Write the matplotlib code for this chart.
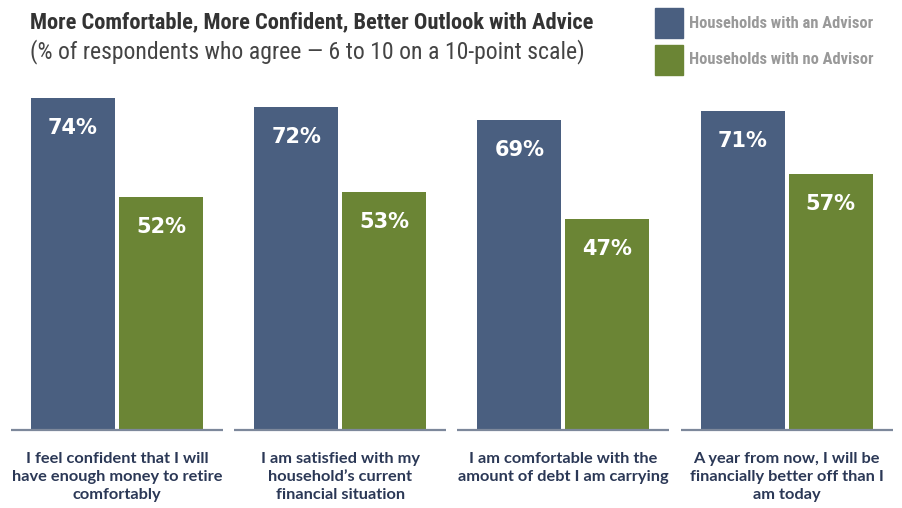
import matplotlib
matplotlib.use('Agg')
import matplotlib.pyplot as plt
import numpy as np

# ── Data ────────────────────────────────────────────────────────────────
categories = [
    "I feel confident that I will\nhave enough money to retire\ncomfortably",
    "I am satisfied with my\nhousehold\u2019s current\nfinancial situation",
    "I am comfortable with the\namount of debt I am carrying",
    "A year from now, I will be\nfinancially better off than I\nam today",
]
with_advisor = [74, 72, 69, 71]
no_advisor = [52, 53, 47, 57]
series_names = ["Households with an Advisor", "Households with no Advisor"]

blue = '#4a5f80'
green = '#6b8535'
navy_text = '#2b3856'
cond = ['Roboto Condensed', 'DejaVu Sans']
lato = ['Lato', 'DejaVu Sans']

W, H = 902, 508
fig = plt.figure(figsize=(W / 100, H / 100), dpi=100)

# axes spanning full width; baseline at y=430 px from top
base_px = 430
px_per_pct = 4.49
ax = fig.add_axes([0, (H - base_px) / H, 1, base_px / H])
gap = 223.2
c0 = 117.0
ax.set_xlim(-c0 / gap, (W - c0) / gap)
ax.set_ylim(0, base_px / px_per_pct)
ax.axis('off')

x = np.arange(len(categories))
bw = 84 / gap
off = 44 / gap
ax.bar(x - off, with_advisor, width=bw, color=blue)
ax.bar(x + off, no_advisor, width=bw, color=green)

lab_drop = 30 / px_per_pct
for xi, a, b in zip(x, with_advisor, no_advisor):
    ax.text(xi - off, a - lab_drop, f"{a}%", ha='center', va='center', color='white',
            fontsize=15, fontweight='bold', family='DejaVu Sans')
    ax.text(xi + off, b - lab_drop, f"{b}%", ha='center', va='center', color='white',
            fontsize=15, fontweight='bold', family='DejaVu Sans')
    ax.plot([xi - 106 / gap, xi + 106 / gap], [0, 0], color='#7d889b', lw=1.6,
            solid_capstyle='butt', clip_on=False)

# category labels below baseline
for xi, cat in zip(x, categories):
    fx = (c0 + xi * gap) / W
    fig.text(fx, 1 - 452 / H, cat, ha='center', va='top', color=navy_text,
             fontsize=11.8, fontweight='bold', family=lato, linespacing=1.35)

# title / subtitle
fig.text(30 / W, 1 - 22 / H, "More Comfortable, More Confident, Better Outlook with Advice",
         ha='left', va='center', fontsize=16.2, fontweight='bold', color='#333333', family=cond)
fig.text(30 / W, 1 - 52 / H, "(% of respondents who agree \u2014 6 to 10 on a 10-point scale)",
         ha='left', va='center', fontsize=17.1, color='#444444', family=cond)

# legend
for i, (name, col) in enumerate(zip(series_names, [blue, green])):
    top = 8 + i * 37
    fig.patches.append(plt.Rectangle((655 / W, 1 - (top + 30) / H), 28 / W, 30 / H,
                                     transform=fig.transFigure, color=col))
    fig.text(689 / W, 1 - (top + 15) / H, name, ha='left', va='center', fontsize=11.9,
             fontweight='bold', color='#999999', family=cond)

fig.savefig('out.png', dpi=100, facecolor='white')
